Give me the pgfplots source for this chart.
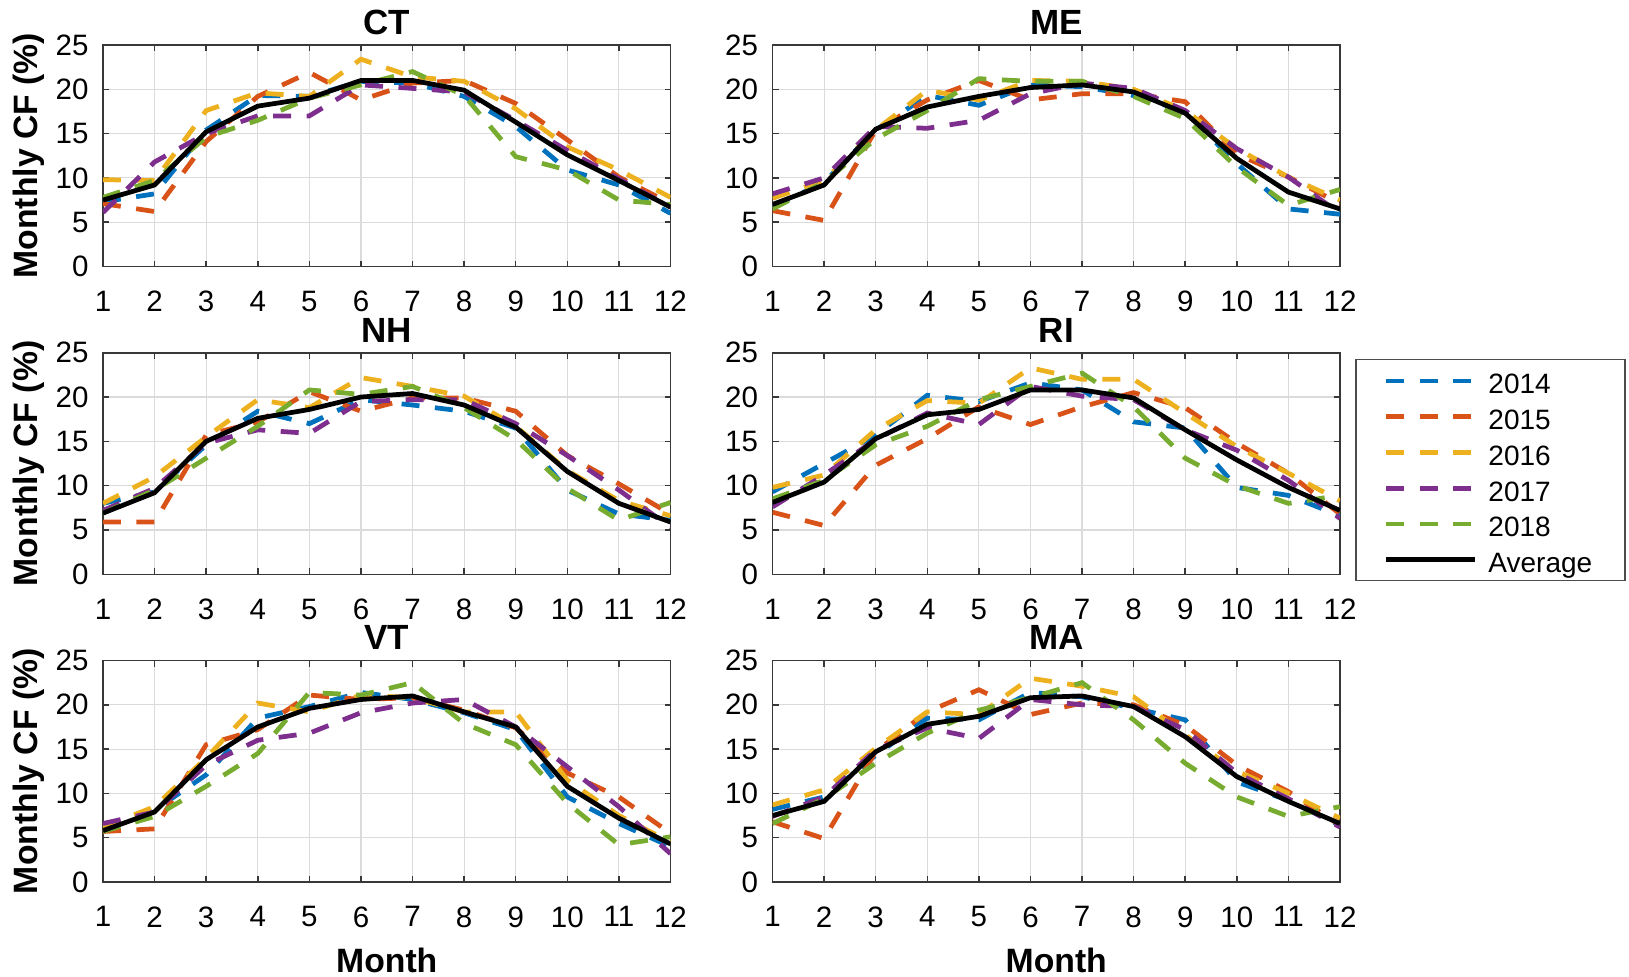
\documentclass[border=0pt]{standalone}
\usepackage{fontspec}
\setmainfont{Liberation Sans}
\usepackage{pgfplots}
\usepackage{pgfplotstable}
\pgfplotsset{compat=1.18}
\definecolor{c14}{rgb}{0,0.447,0.741}
\definecolor{c15}{rgb}{0.85,0.325,0.098}
\definecolor{c16}{rgb}{0.929,0.694,0.125}
\definecolor{c17}{rgb}{0.494,0.184,0.556}
\definecolor{c18}{rgb}{0.466,0.674,0.188}

\pgfplotstableread{
m a14 a15 a16 a17 a18 avg
1 7.3 7.1 9.8 6.1 7.8 7.5
2 8.2 6.2 9.7 11.8 9.7 9.2
3 15.4 14.1 17.6 15.0 14.6 15.2
4 19.3 19.2 19.6 17.0 16.5 18.1
5 19.2 21.9 19.2 17.0 19.0 19.0
6 20.9 18.8 23.4 20.5 20.5 21.0
7 20.7 20.7 21.4 20.1 22.0 21.0
8 19.2 21.0 20.9 19.7 19.3 19.9
9 15.8 18.4 17.8 16.5 12.4 16.3
10 10.9 14.3 13.5 13.1 10.9 12.6
11 9.2 10.1 10.9 9.9 7.5 9.7
12 6.0 7.1 7.8 6.7 7.0 6.7
}\CTdata
\pgfplotstableread{
m a14 a15 a16 a17 a18 avg
1 6.7 6.3 7.7 8.2 6.5 7.0
2 9.5 5.2 9.7 10.0 9.5 9.2
3 15.4 15.4 15.4 15.8 14.4 15.5
4 19.3 18.8 19.9 15.6 17.6 18.0
5 18.2 21.0 18.8 16.5 21.2 19.2
6 20.5 18.8 21.0 19.5 20.9 20.2
7 20.3 19.5 20.9 20.7 20.9 20.5
8 19.3 19.5 20.0 20.1 19.2 19.7
9 17.5 18.6 17.6 17.6 16.7 17.3
10 11.6 12.7 13.3 13.3 11.2 12.2
11 6.5 10.1 10.1 10.1 6.9 8.4
12 5.9 7.1 7.5 6.0 8.7 6.5
}\MEdata
\pgfplotstableread{
m a14 a15 a16 a17 a18 avg
1 8.0 5.9 8.0 7.2 6.9 6.9
2 9.3 5.9 11.0 9.7 9.5 9.2
3 14.6 15.7 15.5 14.8 13.1 15.0
4 18.4 17.2 19.7 16.3 16.7 17.6
5 17.0 20.6 18.8 15.9 20.8 18.6
6 19.7 18.4 22.2 19.5 20.3 20.0
7 19.1 19.9 21.2 19.7 21.2 20.4
8 18.4 19.9 20.1 19.7 18.8 19.1
9 16.5 18.4 16.7 17.0 15.2 16.6
10 9.5 13.4 11.7 13.4 9.7 11.6
11 6.8 10.2 8.3 9.5 6.1 8.0
12 6.1 6.8 6.6 5.3 8.1 5.9
}\NHdata
\pgfplotstableread{
m a14 a15 a16 a17 a18 avg
1 9.3 7.0 9.8 7.6 8.5 8.1
2 12.5 5.5 11.2 11.2 10.6 10.4
3 15.7 12.3 16.3 15.2 14.6 15.3
4 20.2 15.3 19.6 18.2 16.7 18.0
5 19.5 18.9 19.3 16.9 19.7 18.6
6 21.6 16.9 23.3 21.2 21.2 20.8
7 20.8 18.9 22.0 20.1 22.7 20.8
8 17.2 20.5 22.0 19.7 18.9 19.9
9 16.5 18.8 18.2 16.3 13.1 16.3
10 9.8 14.8 14.4 14.0 10.0 12.9
11 8.9 11.4 11.4 10.6 8.0 9.8
12 6.6 6.8 8.3 6.3 8.9 7.2
}\RIdata
\pgfplotstableread{
m a14 a15 a16 a17 a18 avg
1 6.2 5.7 6.2 6.6 5.7 5.8
2 8.1 6.0 8.5 7.9 7.4 7.9
3 12.1 15.5 14.0 13.2 10.8 13.8
4 18.5 17.2 20.2 16.0 14.5 17.5
5 19.8 21.1 19.2 16.8 21.4 19.6
6 21.4 20.6 21.1 19.1 21.1 20.6
7 20.6 20.8 20.8 20.2 22.5 21.0
8 19.1 19.4 19.2 20.6 17.9 19.2
9 17.2 17.4 19.2 17.5 15.5 17.5
10 9.6 12.3 11.5 13.0 8.9 10.8
11 6.6 9.6 7.5 8.5 4.2 7.2
12 4.0 5.5 4.5 3.2 5.1 4.3
}\VTdata
\pgfplotstableread{
m a14 a15 a16 a17 a18 avg
1 8.2 6.8 8.7 7.4 6.6 7.5
2 9.6 4.9 10.4 9.6 9.4 9.1
3 14.3 14.7 15.1 14.9 13.4 14.7
4 18.5 19.2 19.2 17.4 16.8 17.8
5 18.3 21.7 18.9 16.2 19.4 18.7
6 21.4 18.9 23.0 20.6 20.8 20.8
7 20.9 20.2 22.1 20.0 22.5 21.0
8 19.6 20.0 20.9 19.8 18.3 19.8
9 18.3 17.7 16.6 17.2 13.4 16.4
10 11.3 13.2 12.5 12.3 9.6 11.9
11 9.2 10.2 10.0 9.4 7.4 9.1
12 6.4 6.4 7.2 6.2 8.5 6.6
}\MAdata

\pgfplotsset{
  panel/.style={
    scale only axis, width=227pt, height=88.6pt,
    anchor=north west,
    xmin=1, xmax=12, ymin=0, ymax=25,
    xtick={1,...,12}, ytick={0,5,...,25},
    grid=major,
    major grid style={black!14, line width=0.45pt},
    axis line style={black!78, line width=0.6pt},
    every tick/.style={black!78, line width=0.6pt},
    tick align=inside, tick pos=both,
    major tick length=2.4pt,
    /pgf/number format/assume math mode=true,
    ticklabel style={font=\fontsize{11.8}{12}\selectfont},
    xticklabel style={anchor=north, inner sep=0pt, yshift=-9.6pt},
    yticklabel style={anchor=east, inner sep=0pt, xshift=-5.6pt},
    every axis title shift=0pt,
    title style={font=\bfseries\fontsize{14}{14}\selectfont,
      at={(axis description cs:0.5,1.0485)}, anchor=base, inner sep=0pt},
    dsh/.style={line width=1.9pt, dash pattern=on 7.2pt off 6.2pt},
  },
  ylab/.style={ylabel={Monthly CF (\%)},
    ylabel style={font=\bfseries\fontsize{13.5}{13.5}\selectfont,
      at={(axis description cs:-0.1304,0.5)}, anchor=center, inner sep=0pt}},
  xlab/.style={xlabel={Month},
    xlabel style={font=\bfseries\fontsize{13.5}{13.5}\selectfont,
      at={(axis description cs:0.5,-0.4063)}, anchor=base, inner sep=0pt}},
}

\newcommand{\drawpanel}[3]{%
\begin{axis}[panel, #2]
\addplot[c14, dsh] table[x=m, y=a14] {#1};
\addplot[c15, dsh] table[x=m, y=a15] {#1};
\addplot[c16, dsh] table[x=m, y=a16] {#1};
\addplot[c17, dsh] table[x=m, y=a17] {#1};
\addplot[c18, dsh] table[x=m, y=a18] {#1};
\addplot[black, line width=1.9pt] table[x=m, y=avg] {#1};
#3
\end{axis}}

\begin{document}
\begin{tikzpicture}
\useasboundingbox (0pt,0pt) rectangle (651.6pt,-390.8pt);
\drawpanel{\CTdata}{at={(41.2pt,-18pt)}, title={CT}, ylab}{}
\drawpanel{\MEdata}{at={(309pt,-18pt)}, title={ME}}{}
\drawpanel{\NHdata}{at={(41.2pt,-141.1pt)}, title={NH}, ylab}{}
\drawpanel{\RIdata}{at={(309pt,-141.1pt)}, title={RI},
  legend style={at={(1.0273,0.9718)}, anchor=north west,
    draw=black!70, line width=0.6pt,
    font=\fontsize{11.2}{12}\selectfont,
    inner xsep=11pt, inner ysep=1.3pt, row sep=0pt, column sep=2.4pt,
    nodes={inner xsep=2pt, inner ysep=2pt, text height=10.3pt, text depth=0pt},
    cells={anchor=west}},
  legend image code/.code={\draw[#1] (0pt,0pt) -- (35.6pt,0pt);}}
  {\legend{2014,2015,2016,2017,2018,Average}}
\drawpanel{\VTdata}{at={(41.2pt,-264.2pt)}, title={VT}, ylab, xlab}{}
\drawpanel{\MAdata}{at={(309pt,-264.2pt)}, title={MA}, xlab}{}
\end{tikzpicture}
\end{document}
